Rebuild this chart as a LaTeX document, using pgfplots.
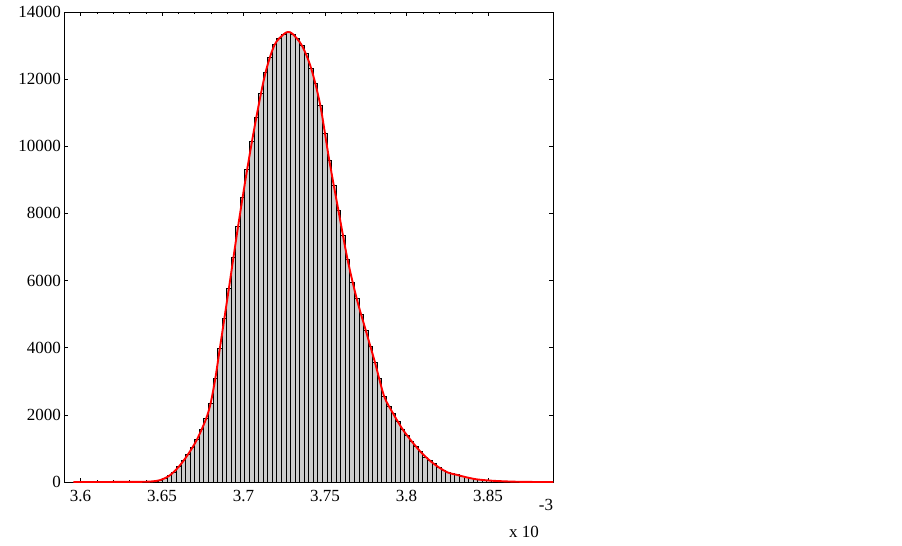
\documentclass[border=0pt]{standalone}
\usepackage{pgfplots}
\pgfplotsset{compat=1.18}
\usepackage{pgfplotstable}
\usepackage{fontspec}
\setmainfont{Liberation Serif}
\pgfplotstableread{
x y
3.6014 0
3.6042 0
3.6070 0
3.6098 0
3.6126 0
3.6154 1
3.6182 1
3.6210 1
3.6238 2
3.6266 2
3.6294 3
3.6322 3
3.6350 4
3.6378 6
3.6406 9
3.6434 16
3.6462 30
3.6490 60
3.6518 115
3.6546 194
3.6574 290
3.6602 453
3.6630 631
3.6658 815
3.6686 1028
3.6714 1266
3.6742 1557
3.6770 1883
3.6798 2353
3.6826 3070
3.6854 3970
3.6882 4871
3.6910 5774
3.6938 6689
3.6966 7607
3.6994 8478
3.7022 9313
3.7050 10130
3.7078 10858
3.7106 11585
3.7134 12186
3.7162 12642
3.7190 13022
3.7218 13217
3.7246 13338
3.7274 13405
3.7302 13341
3.7330 13221
3.7358 13000
3.7386 12770
3.7414 12330
3.7442 11873
3.7470 11229
3.7498 10369
3.7526 9573
3.7554 8827
3.7582 8080
3.7610 7351
3.7638 6623
3.7666 5932
3.7694 5458
3.7722 4983
3.7750 4508
3.7778 4034
3.7806 3561
3.7834 3089
3.7862 2558
3.7890 2264
3.7918 2036
3.7946 1808
3.7974 1580
3.8002 1381
3.8030 1220
3.8058 1059
3.8086 898
3.8114 743
3.8142 640
3.8170 538
3.8198 435
3.8226 333
3.8254 281
3.8282 246
3.8310 211
3.8338 176
3.8366 141
3.8394 106
3.8422 85
3.8450 70
3.8478 55
3.8506 45
3.8534 35
3.8562 28
3.8590 22
3.8618 16
3.8646 12
3.8674 8
3.8702 5
3.8730 3
3.8758 2
3.8786 1
}\bins
\pgfplotstableread{
x y
3.5955 0
3.6014 0
3.6154 1
3.6294 3
3.6378 6
3.6434 16
3.6490 60
3.6546 194
3.6602 453
3.6658 815
3.6714 1266
3.6770 1883
3.6798 2353
3.6826 3070
3.6854 3970
3.6910 5774
3.6966 7607
3.7022 9313
3.7078 10858
3.7134 12186
3.7190 13022
3.7246 13338
3.7274 13405
3.7302 13341
3.7358 13000
3.7414 12330
3.7470 11229
3.7526 9573
3.7582 8080
3.7638 6623
3.7694 5458
3.7750 4508
3.7806 3561
3.7862 2558
3.7918 2036
3.7974 1580
3.8030 1220
3.8086 898
3.8142 640
3.8198 435
3.8254 281
3.8310 211
3.8366 141
3.8422 85
3.8478 55
3.8534 35
3.8590 22
3.8646 12
3.8702 5
3.8786 1
3.8900 0
}\curve
\begin{document}
\begin{tikzpicture}
\path[use as bounding box] (0,0) rectangle (902pt,546pt);
\begin{axis}[
  at={(64.3pt,64pt)}, anchor=south west,
  scale only axis, width=489pt, height=470pt,
  xmin=3.59, xmax=3.89, ymin=0, ymax=14000,
  xtick={3.6,3.65,3.7,3.75,3.8,3.85},
  minor x tick num=4,
  ytick={0,2000,4000,6000,8000,10000,12000,14000},
  scaled x ticks=false, scaled y ticks=false,
  tick align=inside,
  major tick length=4pt, minor tick length=2pt,
  /pgf/number format/assume math mode=true,
  /pgf/number format/1000 sep={},
  /pgf/number format/fixed,
  /pgf/number format/precision=2,
  tick label style={font=\fontsize{17}{20}\selectfont},
  xticklabel style={yshift=-5pt},
  axis line style={line width=0.8pt},
  every tick/.style={black, line width=0.6pt},
  clip=false,
]
\addplot[ybar, bar width=0.0028, fill=gray!40, draw=black, line width=0.9pt] table[x=x,y=y]{\bins};
\addplot[red, line width=1.9pt, smooth, no markers] table[x=x,y=y]{\curve};
\node[anchor=base east, inner sep=0pt, font=\fontsize{17}{20}\selectfont] at (rel axis cs:1,0) [yshift=-55pt] {x 10\raisebox{27pt}{-3}};
\end{axis}
\end{tikzpicture}
\end{document}
